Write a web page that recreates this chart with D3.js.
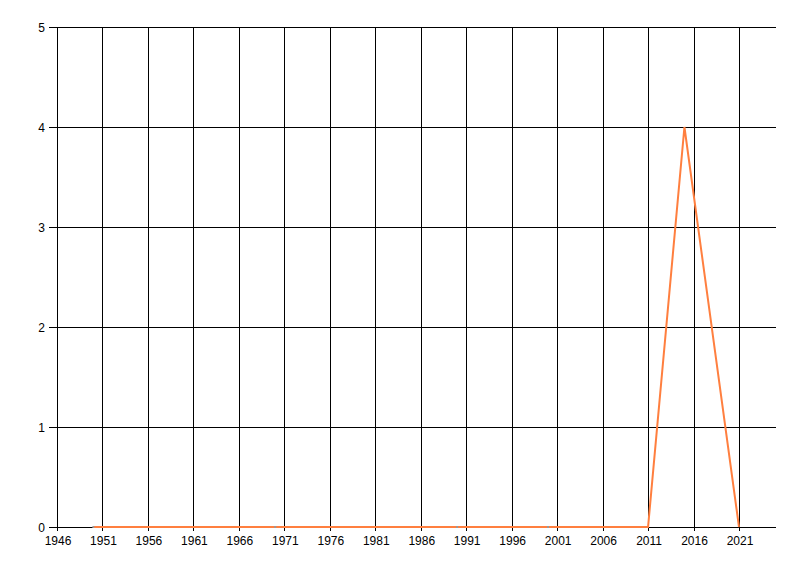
<!DOCTYPE html>
<html><head><meta charset="utf-8">
<script src="https://cdn.jsdelivr.net/npm/d3@7"></script>
<style>body{margin:0;background:#fff}svg{display:block}</style>
</head><body>
<svg id="c" width="800" height="576"></svg>
<script>
const years = [1950, 1970, 1990, 2000, 2011, 2015, 2021];
const values = [0, 0, 0, 0, 0, 4, 0];
const xTicks = d3.range(1946, 2022, 5);
const yTicks = [0, 1, 2, 3, 4, 5];

const svg = d3.select("#c");
const L = 57, R = 776, T = 27, B = 527;
const x = d3.scaleLinear().domain([1946, 2025.07]).range([L, R]);
const y = d3.scaleLinear().domain([0, 5]).range([B, T]);
const font = "'Liberation Sans', Arial, sans-serif";

const g = svg.append("g");
g.selectAll(".vg").data(xTicks).enter().append("line")
  .attr("x1", d => Math.round(x(d)) + 0.5).attr("x2", d => Math.round(x(d)) + 0.5)
  .attr("y1", T).attr("y2", B + 4).attr("stroke", "#000").attr("stroke-width", 1);
g.selectAll(".hg").data(yTicks).enter().append("line")
  .attr("x1", L - 8).attr("x2", R)
  .attr("y1", d => Math.round(y(d)) + 0.5).attr("y2", d => Math.round(y(d)) + 0.5)
  .attr("stroke", "#000").attr("stroke-width", 1);

const xAxis = d3.axisBottom(x).tickValues(xTicks).tickFormat(d3.format("d")).tickSize(0).tickPadding(9);
const xa = svg.append("g").attr("transform", `translate(0.5,${B})`).call(xAxis);
xa.select(".domain").remove();
xa.selectAll("text").attr("font-family", font).attr("font-size", 12).attr("fill", "#000");

const yAxis = d3.axisLeft(y).tickValues(yTicks).tickFormat(d3.format("d")).tickSize(0).tickPadding(12);
const ya = svg.append("g").attr("transform", `translate(${L},0.5)`).call(yAxis);
ya.select(".domain").remove();
ya.selectAll("text").attr("font-family", font).attr("font-size", 12).attr("fill", "#000");

const line = d3.line().x((d, i) => x(years[i])).y(d => y(d));
svg.append("path").datum(values).attr("d", line)
  .attr("fill", "none").attr("stroke", "#FF7F3F").attr("stroke-width", 2).attr("stroke-linejoin", "miter");
svg.selectAll(".mk").data(years.slice(0, 4)).enter().append("rect")
  .attr("x", d => x(d) - 1).attr("y", y(0) - 1).attr("width", 2).attr("height", 2)
  .attr("fill", "#999");
</script>
</body></html>
